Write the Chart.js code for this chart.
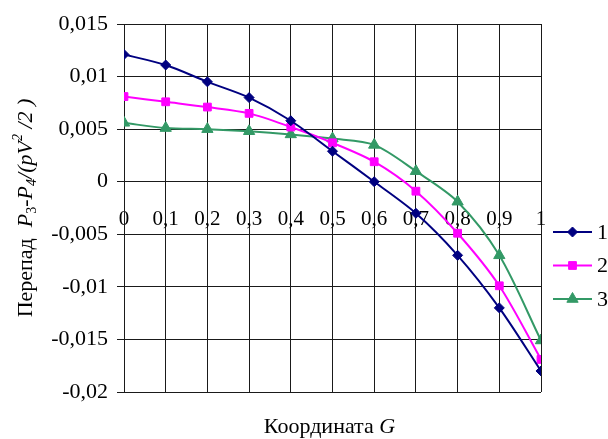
<!DOCTYPE html>
<html>
<head>
<meta charset="utf-8">
<script src="https://cdn.jsdelivr.net/npm/chart.js@4"></script>
<style>
html,body{margin:0;padding:0;background:#fff;}
#wrap{width:608px;height:439px;position:relative;}
</style>
</head>
<body>
<div id="wrap"><canvas id="c" width="608" height="439"></canvas></div>
<script>
const xValues = [0, 0.1, 0.2, 0.3, 0.4, 0.5, 0.6, 0.7, 0.8, 0.9, 1];
const xTickLabels = ["0", "0,1", "0,2", "0,3", "0,4", "0,5", "0,6", "0,7", "0,8", "0,9", "1"];
const yTickLabels = ["-0,02", "-0,015", "-0,01", "-0,005", "0", "0,005", "0,01", "0,015"];
const seriesNames = ["1", "2", "3"];
const series1 = [0.0121, 0.0111, 0.0095, 0.0080, 0.0058, 0.0029, 0.0000, -0.0030, -0.0070, -0.0120, -0.0180];
const series2 = [0.0081, 0.0076, 0.0071, 0.0065, 0.0052, 0.0037, 0.0019, -0.0009, -0.0049, -0.0099, -0.0169];
const series3 = [0.0056, 0.0051, 0.0050, 0.0048, 0.0045, 0.0041, 0.0035, 0.0010, -0.0019, -0.0070, -0.0151];

const FONT = "'Liberation Serif', 'Times New Roman', serif";

function pts(vals){ return xValues.map((x,i)=>({x:x, y:vals[i]})); }

const styles = [
  {color:'#000080', pointStyle:'rectRot', radius:5},
  {color:'#FF00FF', pointStyle:'rect', radius:5.5},
  {color:'#339966', pointStyle:'triangle', radius:6.5}
];
const allSeries = [series1, series2, series3];

const datasets = allSeries.map((s,i)=>({
  label: seriesNames[i],
  data: pts(s),
  borderColor: styles[i].color,
  backgroundColor: styles[i].color,
  borderWidth: 2,
  pointStyle: styles[i].pointStyle,
  pointRadius: styles[i].radius,
  pointBorderWidth: 1,
  pointBackgroundColor: styles[i].color,
  pointBorderColor: styles[i].color,
  tension: 0.3,
  cubicInterpolationMode: 'default',
  fill: false
}));

const richTitles = {
  id: 'richTitles',
  afterDraw(chart){
    const ctx = chart.ctx;
    const area = chart.chartArea;
    const size = 22;
    const runs = [
      {t:'Перепад  ', f:`${size}px ${FONT}`, dy:0},
      {t:'P', f:`italic ${size}px ${FONT}`, dy:0},
      {t:'3', f:`${Math.round(size*0.62)}px ${FONT}`, dy:4},
      {t:'-', f:`${size}px ${FONT}`, dy:0},
      {t:'P', f:`italic ${size}px ${FONT}`, dy:0},
      {t:'4', f:`italic ${Math.round(size*0.62)}px ${FONT}`, dy:4},
      {t:'/(pV', f:`italic ${size}px ${FONT}`, dy:0},
      {t:'2', f:`italic ${Math.round(size*0.62)}px ${FONT}`, dy:-10},
      {t:' /2 )', f:`italic ${size}px ${FONT}`, dy:0}
    ];
    ctx.save();
    ctx.fillStyle = '#000';
    ctx.textBaseline = 'alphabetic';
    ctx.textAlign = 'left';
    let total = 0;
    runs.forEach(r=>{ ctx.font = r.f; r.w = ctx.measureText(r.t).width; total += r.w; });
    const cy = (area.top + area.bottom) / 2;
    ctx.translate(32, cy);
    ctx.rotate(-Math.PI/2);
    let x = -total/2;
    runs.forEach(r=>{ ctx.font = r.f; ctx.fillText(r.t, x, r.dy); x += r.w; });
    ctx.restore();

    ctx.save();
    ctx.fillStyle = '#000';
    ctx.textBaseline = 'alphabetic';
    ctx.textAlign = 'left';
    const xr = [
      {t:'Координата ', f:`${size}px ${FONT}`},
      {t:'G', f:`italic ${size}px ${FONT}`}
    ];
    let tw = 0;
    xr.forEach(r=>{ ctx.font = r.f; r.w = ctx.measureText(r.t).width; tw += r.w; });
    let xx = (area.left + area.right)/2 - tw/2 - 3;
    xr.forEach(r=>{ ctx.font = r.f; ctx.fillText(r.t, xx, 433); xx += r.w; });
    ctx.restore();
  }
};

const customLegend = {
  id: 'customLegend',
  afterDraw(chart){
    const ctx = chart.ctx;
    const area = chart.chartArea;
    const x0 = area.right + 12, x1 = area.right + 51, tx = area.right + 56;
    const ys = [232, 265.5, 299];
    chart.data.datasets.forEach((ds,i)=>{
      const y = ys[i];
      ctx.save();
      ctx.strokeStyle = ds.borderColor;
      ctx.lineWidth = 2;
      ctx.beginPath(); ctx.moveTo(x0, y); ctx.lineTo(x1, y); ctx.stroke();
      ctx.fillStyle = ds.pointBackgroundColor;
      ctx.strokeStyle = ds.pointBorderColor;
      ctx.lineWidth = 1;
      Chart.helpers.drawPoint(ctx, {pointStyle: ds.pointStyle, radius: ds.pointRadius, rotation: 0, borderWidth: 1}, (x0+x1)/2, y);
      ctx.fillStyle = '#000';
      ctx.font = `22px ${FONT}`;
      ctx.textBaseline = 'middle';
      ctx.textAlign = 'left';
      ctx.fillText(ds.label, tx, y + 1);
      ctx.restore();
    });
  }
};

new Chart(document.getElementById('c'), {
  type: 'line',
  data: { datasets },
  plugins: [richTitles, customLegend],
  options: {
    responsive: false,
    animation: false,
    devicePixelRatio: 1,
    layout: { padding: { left: 0, right: 67, top: 24, bottom: 47 } },
    plugins: { legend: { display: false }, tooltip: { enabled: false } },
    scales: {
      x: {
        type: 'linear',
        position: { y: 0 },
        min: 0, max: 1,
        ticks: {
          stepSize: 0.1,
          color: '#000',
          font: { family: FONT, size: 21 },
          padding: 17,
          maxRotation: 0,
          autoSkip: false,
          callback: (v, i) => xTickLabels[i]
        },
        grid: { color: '#1a1a1a', lineWidth: 1, tickLength: 8, drawTicks: true },
        border: { color: '#1a1a1a', width: 1 }
      },
      y: {
        type: 'linear',
        min: -0.02, max: 0.015,
        ticks: {
          stepSize: 0.005,
          color: '#000',
          font: { family: FONT, size: 22 },
          padding: 9,
          autoSkip: false,
          callback: (v, i) => yTickLabels[i]
        },
        grid: { color: '#1a1a1a', lineWidth: 1, tickLength: 7 },
        border: { color: '#1a1a1a', width: 1 },
        afterFit(scale){ scale.width = 124; }
      }
    }
  }
});
</script>
</body>
</html>
